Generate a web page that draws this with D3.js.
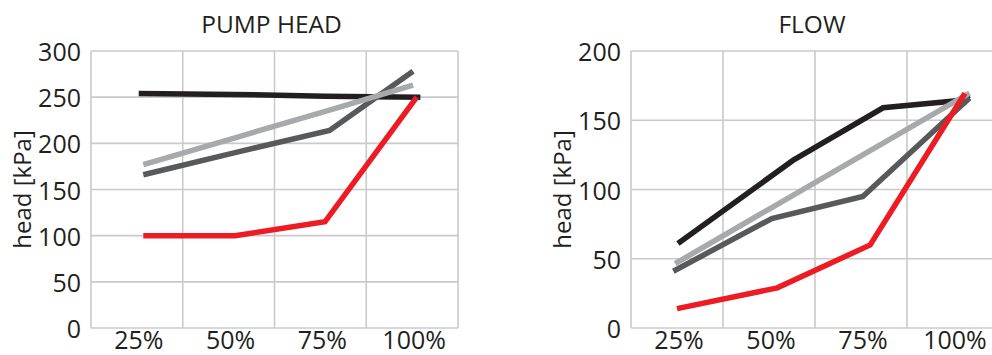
<!DOCTYPE html>
<html><head><meta charset="utf-8">
<script src="https://cdn.jsdelivr.net/npm/d3@7"></script>
<style>
html,body{margin:0;padding:0;background:#fff;}
svg{display:block;}
text{font-family:"Open Sans",sans-serif;fill:#231f20;}
</style></head>
<body>
<svg id="chart" width="992" height="355"></svg>
<script>
// ---- data ----
const categories = ["25%", "50%", "75%", "100%"];
const headTicks = [0, 50, 100, 150, 200, 250, 300];
const flowTicks = [0, 50, 100, 150, 200];
const seriesColors = ["#231f20", "#58595b", "#a7a9ac", "#ed1c24"];

// positions along the category axis (category i spans [i, i+1])
const pumpBlackX = [0.52, 1.55, 2.55, 3.59];
const pumpBlackY = [254, 253, 251, 250];
const pumpDarkX = [0.57, 1.57, 2.60, 3.51];
const pumpDarkY = [166, 190, 214, 278];
const pumpLightX = [0.57, 1.57, 2.60, 3.51];
const pumpLightY = [177, 206, 236, 263];
const pumpRedX = [0.57, 1.57, 2.55, 3.55];
const pumpRedY = [100, 100, 115, 250];

const flowBlackX = [0.51, 1.76, 2.74, 3.54, 3.68];
const flowBlackY = [61, 121, 159, 164, 168];
const flowDarkX = [0.46, 1.53, 2.52, 3.68];
const flowDarkY = [41, 79, 95, 166];
const flowLightX = [0.48, 1.53, 2.52, 3.68];
const flowLightY = [46.5, 87, 125, 169.5];
const flowRedX = [0.50, 1.59, 2.60, 3.63];
const flowRedY = [14, 29, 60, 169.5];

const panels = [
  {title: "PUMP HEAD", ticks: headTicks, max: 300, left: 91, right: 458,
   series: [[pumpBlackX, pumpBlackY], [pumpDarkX, pumpDarkY], [pumpLightX, pumpLightY], [pumpRedX, pumpRedY]]},
  {title: "FLOW", ticks: flowTicks, max: 200, left: 631, right: 999,
   series: [[flowBlackX, flowBlackY], [flowDarkX, flowDarkY], [flowLightX, flowLightY], [flowRedX, flowRedY]]}
];

const svg = d3.select("#chart");
const plotTop = 51, plotBottom = 328;
const gridColor = "#c9cacc";

panels.forEach(p => {
  const g = svg.append("g");
  const x = d3.scaleLinear().domain([0, categories.length]).range([p.left, p.right]);
  const band = d3.scaleBand().domain(categories).range([p.left, p.right]);
  const y = d3.scaleLinear().domain([0, p.max]).range([plotBottom, plotTop]);

  // grid
  g.selectAll(".hg").data(p.ticks).join("line")
    .attr("x1", p.left).attr("x2", p.right)
    .attr("y1", d => y(d)).attr("y2", d => y(d))
    .attr("stroke", gridColor).attr("stroke-width", 1.6);
  g.selectAll(".vg").data(d3.range(categories.length + 1)).join("line")
    .attr("x1", d => x(d)).attr("x2", d => x(d))
    .attr("y1", plotTop).attr("y2", plotBottom)
    .attr("stroke", gridColor).attr("stroke-width", 1.6);

  // y tick labels
  g.selectAll(".yl").data(p.ticks).join("text")
    .attr("x", p.left - 10).attr("y", d => y(d) + 10)
    .attr("text-anchor", "end").attr("font-size", 25)
    .text(d => d);

  // x tick labels
  g.selectAll(".xl").data(categories).join("text")
    .attr("x", d => band(d) + band.bandwidth() / 2 + 2).attr("y", 349)
    .attr("text-anchor", "middle").attr("font-size", 25)
    .text(d => d);

  // title
  g.append("text").attr("x", (p.left + p.right) / 2 - 3).attr("y", 33)
    .attr("text-anchor", "middle").attr("font-size", 24.5).text(p.title);

  // y axis label
  g.append("text")
    .attr("transform", `translate(${p.left - 60},${(plotTop + plotBottom) / 2}) rotate(-90)`)
    .attr("text-anchor", "middle").attr("font-size", 24).text("head [kPa]");

  // lines
  const line = d3.line().x(d => x(d[0])).y(d => y(d[1]));
  p.series.forEach((s, i) => {
    const pts = s[0].map((xv, k) => [xv, s[1][k]]);
    g.append("path").attr("d", line(pts))
      .attr("fill", "none").attr("stroke", seriesColors[i])
      .attr("stroke-width", 5.5).attr("stroke-linejoin", "miter");
  });
});
</script>
</body></html>
